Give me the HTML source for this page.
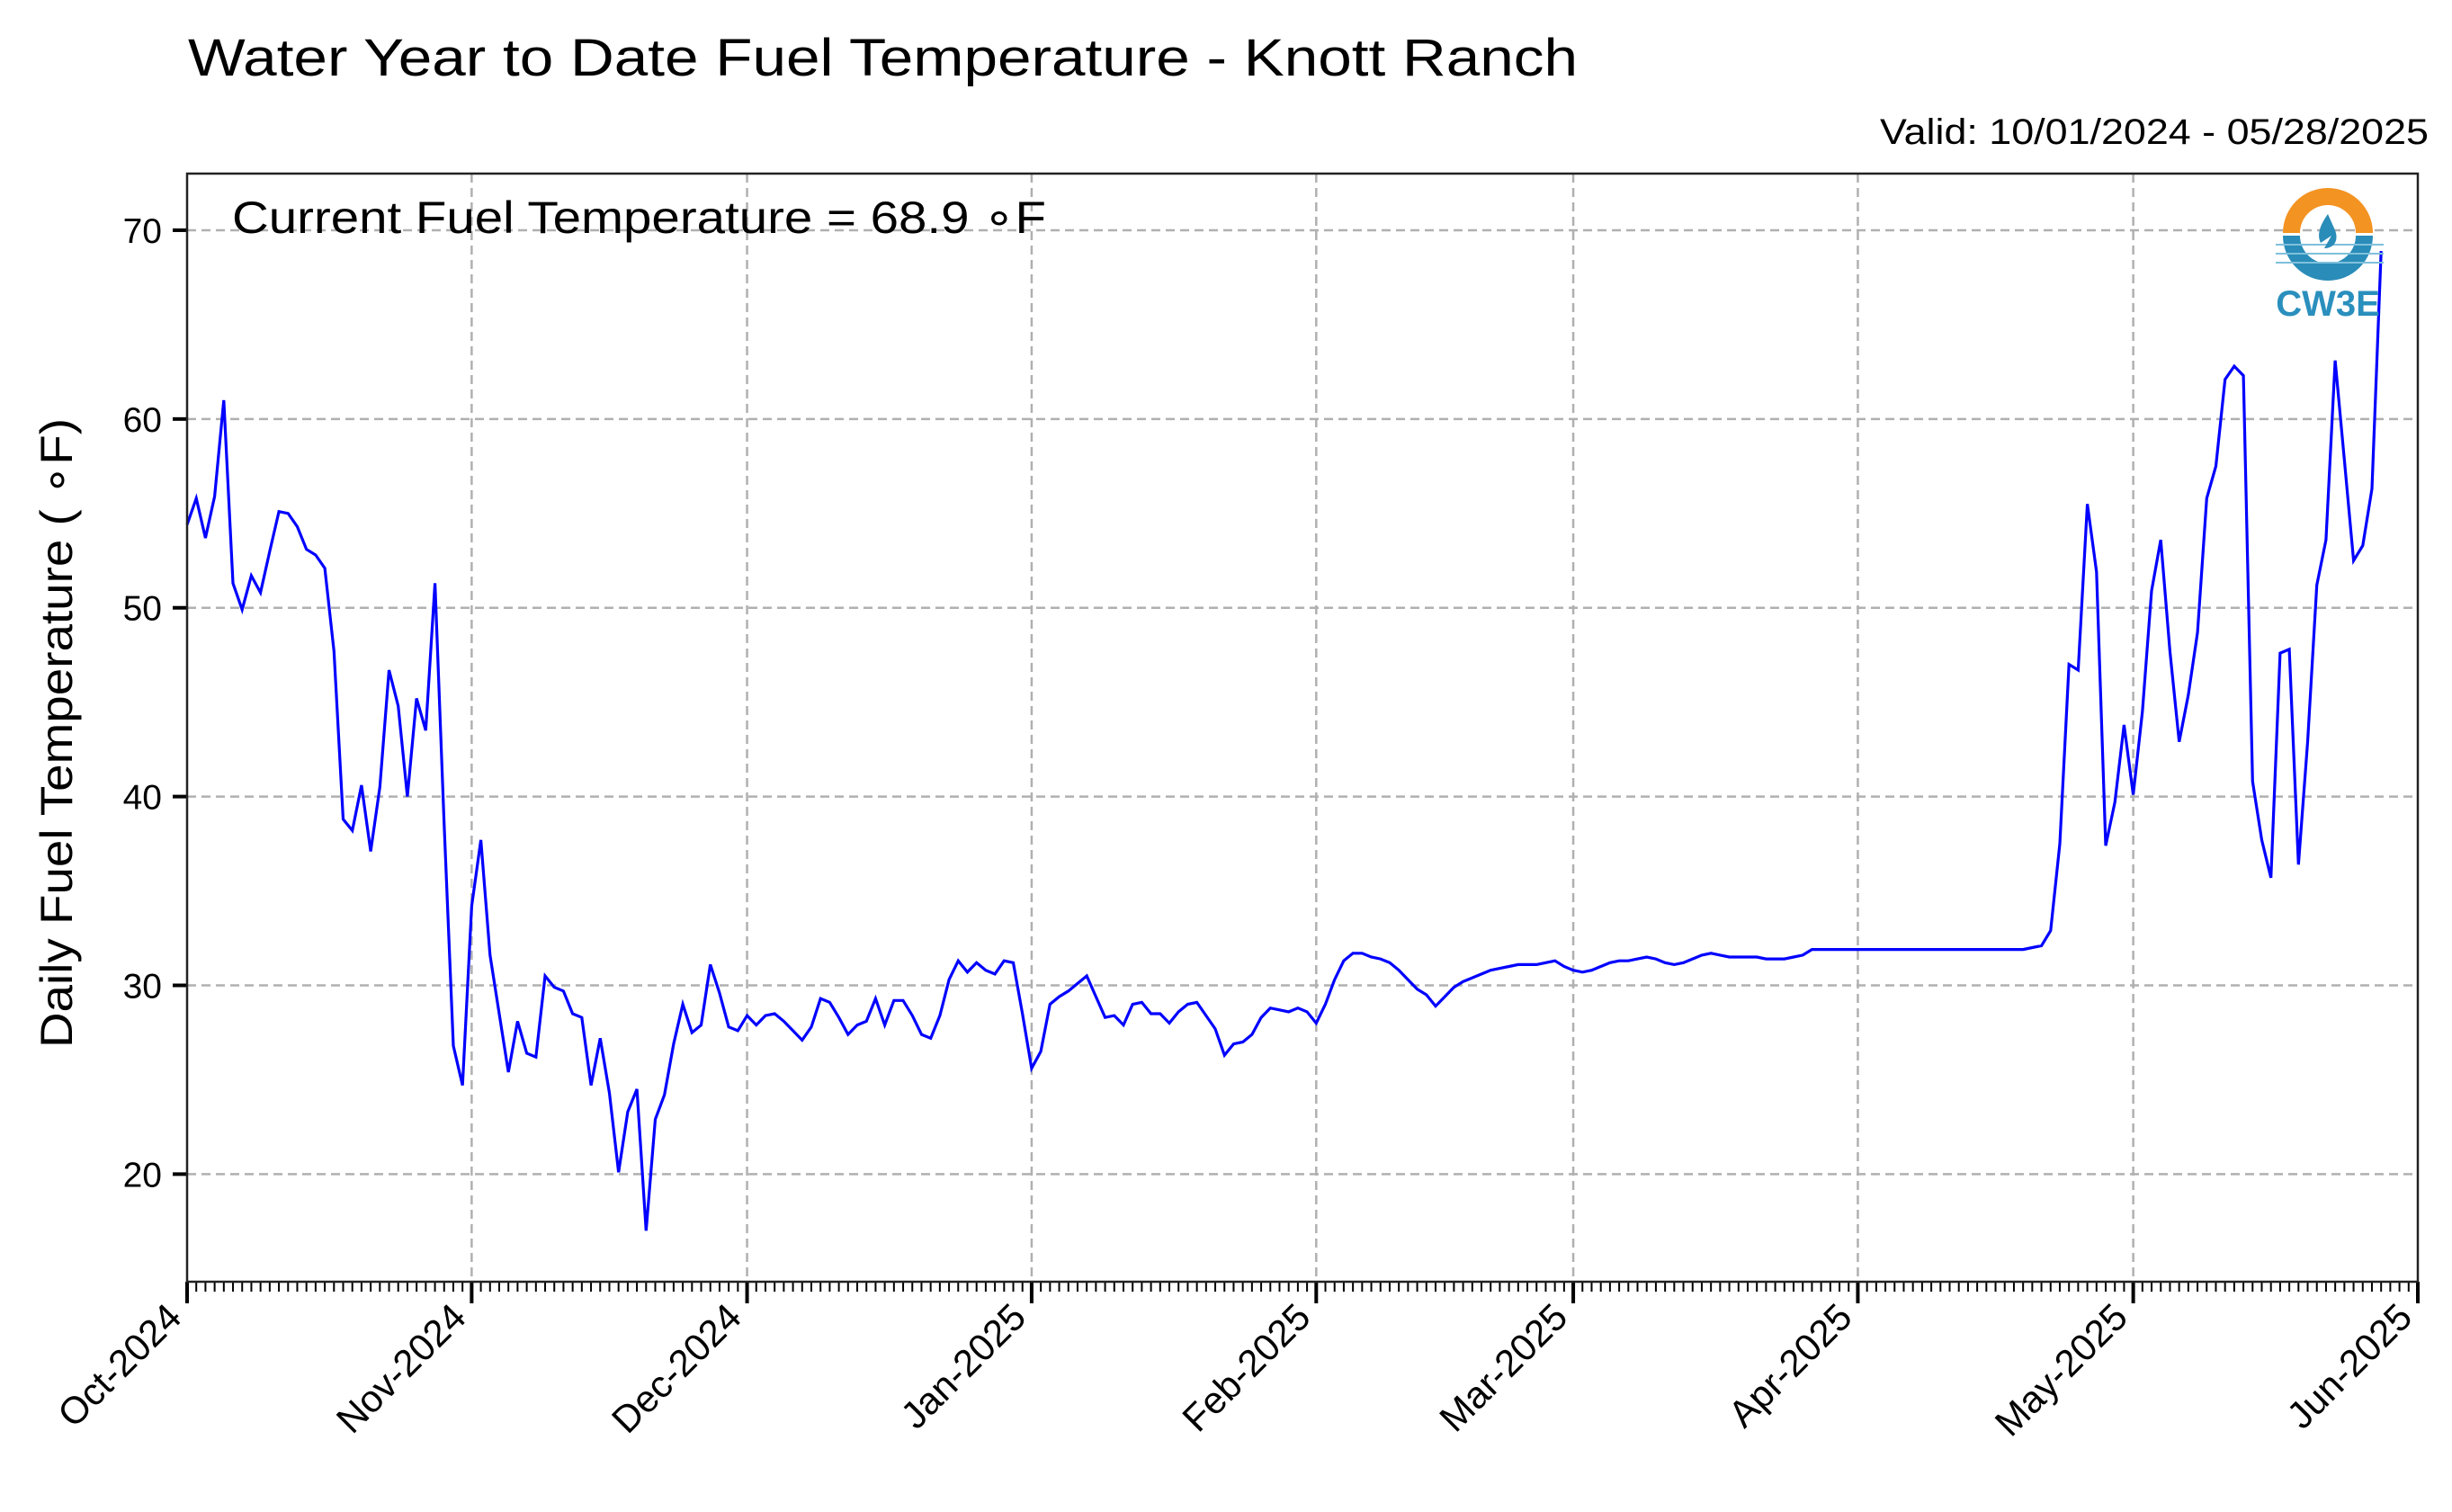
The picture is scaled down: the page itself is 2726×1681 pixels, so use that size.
<!DOCTYPE html>
<html><head><meta charset="utf-8"><style>
html,body{margin:0;padding:0;background:#fff}
svg{display:block}
text{font-family:"Liberation Sans",Arial,sans-serif;fill:#000}
</style></head><body>
<svg id="chart" width="2726" height="1681" viewBox="0 0 2726 1681" xmlns="http://www.w3.org/2000/svg">
<text x="209" y="84" font-size="58" textLength="1545" lengthAdjust="spacingAndGlyphs">Water Year to Date Fuel Temperature - Knott Ranch</text>
<text x="2700" y="160" font-size="40" text-anchor="end" textLength="610" lengthAdjust="spacingAndGlyphs">Valid: 10/01/2024 - 05/28/2025</text>
<g id="grid"></g>
<g id="series"></g>
<g id="axes"></g>
<text x="258" y="259" font-size="50" textLength="905" lengthAdjust="spacingAndGlyphs">Current Fuel Temperature = 68.9 ∘F</text>
<text transform="translate(80,815) rotate(-90)" font-size="50" text-anchor="middle" textLength="700" lengthAdjust="spacingAndGlyphs">Daily Fuel Temperature ( ∘F)</text>
<g>
<defs><clipPath id="lb"><rect x="2530" y="262" width="120" height="60"/></clipPath></defs>
<path d="M2538,259 A50,50 0 0 1 2638,259 L2619,259 A31,31 0 0 0 2557,259 Z" fill="#f39322"/>
<g clip-path="url(#lb)">
<path d="M2538,262 A50,50 0 0 0 2638,262 L2619,262 A31,31 0 0 1 2557,262 Z" fill="#2a8cb8"/>
<line x1="2530" y1="272" x2="2650" y2="272" stroke="#7fc0dc" stroke-width="2"/>
<line x1="2530" y1="282" x2="2650" y2="282" stroke="#7fc0dc" stroke-width="2"/>
<line x1="2530" y1="292" x2="2650" y2="292" stroke="#7fc0dc" stroke-width="2"/>
</g>
<path d="M2588,238 C2578,252 2576,262 2580,270 L2592,262 L2584,276 C2596,276 2600,266 2596,256 Z" fill="#2a8cb8"/>
<text x="2588" y="351" font-size="40" font-weight="bold" text-anchor="middle" style="fill:#2a8fbd">CW3E</text>
</g>
</svg>
<script>
const months = ["Oct","Nov","Dec","Jan","Feb","Mar","Apr","May","Jun"];
const monthLabels = ["Oct-2024","Nov-2024","Dec-2024","Jan-2025","Feb-2025","Mar-2025","Apr-2025","May-2025","Jun-2025"];
const monthStartDay = [0,31,61,92,123,151,182,212,243];
const yTicks = [20,30,40,50,60,70];
const octVals = [54.4,55.8,53.7,55.9,61.0,51.3,49.9,51.7,50.8,53.0,55.1,55.0,54.3,53.1,52.8,52.1,47.7,38.8,38.2,40.6,37.1,40.5,46.7,44.8,40.0,45.2,43.5,51.3,38.5,26.8,24.7];
const novVals = [34.2,37.7,31.6,28.5,25.4,28.1,26.4,26.2,30.5,29.9,29.7,28.5,28.3,24.7,27.2,24.3,20.1,23.3,24.5,17.0,22.9,24.2,26.9,29.0,27.5,27.9,31.1,29.6,27.8,27.6];
const decVals = [28.4,27.9,28.4,28.5,28.1,27.6,27.1,27.8,29.3,29.1,28.3,27.4,27.9,28.1,29.3,27.9,29.2,29.2,28.4,27.4,27.2,28.4,30.3,31.3,30.7,31.2,30.8,30.6,31.3,31.2,28.5];
const janVals = [25.6,26.5,29.0,29.4,29.7,30.1,30.5,29.4,28.3,28.4,27.9,29.0,29.1,28.5,28.5,28.0,28.6,29.0,29.1,28.4,27.7,26.3,26.9,27.0,27.4,28.3,28.8,28.7,28.6,28.8,28.6];
const febVals = [28.0,29.0,30.3,31.3,31.7,31.7,31.5,31.4,31.2,30.8,30.3,29.8,29.5,28.9,29.4,29.9,30.2,30.4,30.6,30.8,30.9,31.0,31.1,31.1,31.1,31.2,31.3,31.0];
const marVals = [30.8,30.7,30.8,31.0,31.2,31.3,31.3,31.4,31.5,31.4,31.2,31.1,31.2,31.4,31.6,31.7,31.6,31.5,31.5,31.5,31.5,31.4,31.4,31.4,31.5,31.6,31.9,31.9,31.9,31.9,31.9];
const aprVals = [31.9,31.9,31.9,31.9,31.9,31.9,31.9,31.9,31.9,31.9,31.9,31.9,31.9,31.9,31.9,31.9,31.9,31.9,31.9,32.0,32.1,32.9,37.5,47.0,46.7,55.5,51.9,37.4,39.7,43.8];
const mayVals = [40.1,44.5,50.9,53.6,47.7,42.9,45.4,48.7,55.8,57.5,62.1,62.8,62.3,40.8,37.7,35.7,47.6,47.8,36.4,42.9,51.2,53.6,63.1,57.8,52.5,53.3,56.3,68.9];
const values = [].concat(octVals,novVals,decVals,janVals,febVals,marVals,aprVals,mayVals);

const X0=208, X1=2688, Y0=193, Y1=1425, YMIN=14.3, YMAX=73.0, NDAYS=243;
const xs = d => X0 + (X1-X0)*d/NDAYS;
const ys = v => Y1 - (Y1-Y0)*(v-YMIN)/(YMAX-YMIN);
const NS="http://www.w3.org/2000/svg";
function mk(tag, attrs, parent){const e=document.createElementNS(NS,tag);for(const k in attrs)e.setAttribute(k,attrs[k]);parent.appendChild(e);return e;}
const grid=document.getElementById('grid'), series=document.getElementById('series'), axes=document.getElementById('axes');

yTicks.forEach(t=>{
  const g=mk('line',{x1:X0,x2:X1,y1:ys(t),y2:ys(t),stroke:'#b0b0b0','stroke-width':2.5,'stroke-dasharray':'10,6'},grid);
  
  
  const tk=mk('line',{x1:X0-16,x2:X0,y1:ys(t),y2:ys(t),stroke:'#000','stroke-width':4},axes);
  
  
  const lb=mk('text',{x:X0-28,y:ys(t)+14,'font-size':39,'text-anchor':'end'},axes);
  lb.textContent=t;
  
  
});
monthStartDay.forEach((d,i)=>{
  const x=xs(d);
  if(i>0 && i<monthStartDay.length-1){
    const g=mk('line',{x1:x,x2:x,y1:Y0,y2:Y1,stroke:'#b0b0b0','stroke-width':2.5,'stroke-dasharray':'10,6'},grid);
    
    
  }
  const tk=mk('line',{x1:x,x2:x,y1:Y1,y2:Y1+24,stroke:'#000','stroke-width':4},axes);
  
  
  const lb=mk('text',{transform:`translate(${x-4},${Y1+42}) rotate(-45)`,'font-size':42,'text-anchor':'end'},axes);
  lb.textContent=monthLabels[i];
  
  
});
for(let d=0; d<=NDAYS; d++){
  if(monthStartDay.includes(d)) continue;
  const m=mk('line',{x1:xs(d),x2:xs(d),y1:Y1,y2:Y1+11,stroke:'#000','stroke-width':2},axes);
  
  
}
const frame=mk('rect',{x:X0,y:Y0,width:X1-X0,height:Y1-Y0,fill:'none',stroke:'#222','stroke-width':2.5},axes);



const pts=values.map((v,i)=>xs(i).toFixed(1)+','+ys(v).toFixed(1)).join(' ');
const line=mk('polyline',{points:pts,fill:'none',stroke:'#0000ff','stroke-width':3.2,'stroke-linejoin':'miter'},series);


</script>
</body></html>
